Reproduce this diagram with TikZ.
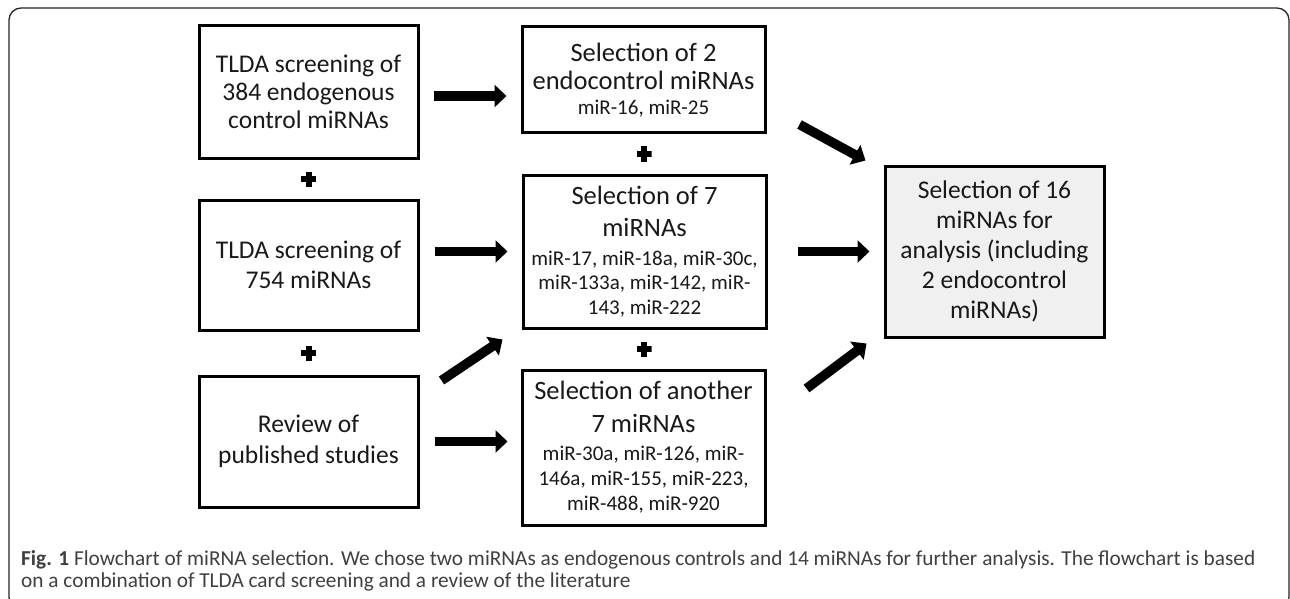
\documentclass[tikz,border=0pt]{standalone}
\usepackage{fontspec}
\setmainfont{Carlito}
\usetikzlibrary{arrows.meta,calc}
\newcommand\smtxt{\fontsize{21}{25}\selectfont}
\tikzset{
  x=1pt, y=-1pt,
  box/.style={draw=black, line width=3pt, align=center, inner sep=0pt, text=black!90},
  leftbox/.style={box, minimum width=219pt},
  midbox/.style={box, minimum width=243pt},
  bigarrow/.style={line width=9.5pt, -{Triangle[length=12pt 0, width=22pt 0]}},
  plusmark/.style={minimum size=15pt, inner sep=0pt, path picture={
      \fill (path picture bounding box.center) ++(-7.5pt,-3pt) rectangle ++(15pt,6pt);
      \fill (path picture bounding box.center) ++(-3pt,-7.5pt) rectangle ++(6pt,15pt);}},
  outerframe/.style={draw=black!85, line width=1.3pt, rounded corners=12pt},
  captext/.style={align=left, inner sep=0pt, anchor=base west,
    font=\fontsize{21.3}{22}\selectfont, text=black!75}
}
\begin{document}
\begin{tikzpicture}
\path[use as bounding box, fill=white] (0,0) rectangle (1290,599);
\begin{scope}
  \clip (0,0) rectangle (1290,599);
  \draw[outerframe] (9,8) rectangle (1289,609);
\end{scope}

\node[leftbox, minimum height=132pt, font=\fontsize{25.5}{28}\selectfont] (A) at (308.5,92)
  {TLDA screening of\\384 endogenous\\control miRNAs};
\node[leftbox, minimum height=130pt, font=\fontsize{25.5}{30}\selectfont] (B) at (308.5,265)
  {TLDA screening of\\754 miRNAs};
\node[leftbox, minimum height=131pt, font=\fontsize{25.5}{31}\selectfont] (C) at (308.5,441.5)
  {Review of\\published studies};

\node[midbox, minimum height=106pt, font=\fontsize{26.5}{28}\selectfont] (D) at (643.5,80)
  {Selection of 2\\endocontrol miRNAs\\[-3pt]{\smtxt miR-16, miR-25}};
\node[midbox, minimum height=153pt, font=\fontsize{26.5}{32}\selectfont] (E) at (644.5,251.5)
  {Selection of 7\\miRNAs\\[-3pt]{\smtxt miR-17, miR-18a, miR-30c,}\\[-7.5pt]{\smtxt miR-133a, miR-142, miR-}\\[-7.5pt]{\smtxt 143, miR-222}};
\node[midbox, minimum height=155pt, font=\fontsize{26.5}{33}\selectfont] (F) at (643.5,447.5)
  {Selection of another\\7 miRNAs\\[-5pt]{\smtxt miR-30a, miR-126, miR-}\\[-8pt]{\smtxt 146a, miR-155, miR-223,}\\[-8pt]{\smtxt miR-488, miR-920}};

\node[leftbox, fill=black!6, minimum height=171pt, font=\fontsize{25.5}{30}\selectfont] (G) at (994.5,251.5)
  {Selection of 16\\miRNAs for\\analysis (including\\2 endocontrol\\miRNAs)};

\node[plusmark] (p1) at ($(A.south)!0.5!(B.north)$) {};
\node[plusmark] (p2) at ($(B.south)!0.5!(C.north)$) {};
\node[plusmark] (p3) at ($(D.south)!0.5!(E.north)$) {};
\node[plusmark] (p4) at ($(E.south)!0.5!(F.north)$) {};

\draw[bigarrow] ($(A.east)+(14,4)$) -- ($(A.east -| D.west)+(-14,4)$);
\draw[bigarrow] ($(B.east |- E.west)+(15,0)$) -- ($(E.west)+(-14,0)$);
\draw[bigarrow] ($(C.east)+(15,0)$) -- ($(C.east -| F.west)+(-13,0)$);
\draw[bigarrow] ($(C.north east)+(22,6)$) -- ($(E.south west)+(-19,10)$);
\draw[bigarrow] ($(D.south east)+(33,-10)$) -- ($(G.north west)+(-18,-4)$);
\draw[bigarrow] ($(E.east)+(30,0)$) -- ($(G.west)+(-14,0)$);
\draw[bigarrow] ($(F.north east)+(40,20)$) -- ($(G.south west)+(-17,5)$);

% base anchor of a two-line node is the baseline of its last line
\node[captext] (cap) at (21,587)
  {\textbf{Fig. 1} Flowchart of miRNA selection. We chose two miRNAs as endogenous controls and 14 miRNAs for further analysis. The flowchart is based\\
   on a combination of TLDA card screening and a review of the literature};
\end{tikzpicture}
\end{document}
